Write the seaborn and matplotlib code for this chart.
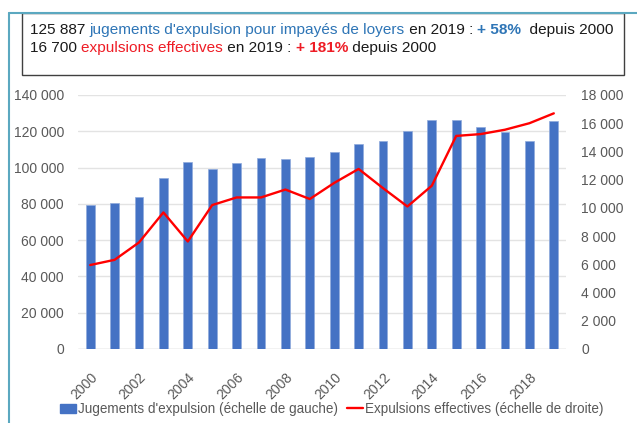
import numpy as np
import pandas as pd
import matplotlib
matplotlib.use("Agg")
import matplotlib.pyplot as plt
import seaborn as sns
from matplotlib.patches import Rectangle
from matplotlib.lines import Line2D
from matplotlib.text import Annotation

years = [str(y) for y in range(2000, 2020)]
jugements = [79400, 80500, 83600, 94500, 102900, 99400, 102500, 105500, 104700, 106000,
             108800, 113200, 114700, 120000, 126000, 126400, 122200, 119800, 114800, 125887]
effectives = [5950, 6320, 7550, 9680, 7620, 10200, 10740, 10740, 11300, 10630,
              11770, 12760, 11400, 10100, 11570, 15100, 15230, 15540, 16000, 16700]
left_ticks = [0, 20000, 40000, 60000, 80000, 100000, 120000, 140000]
right_ticks = [0, 2000, 4000, 6000, 8000, 10000, 12000, 14000, 16000, 18000]

sns.set_theme(style="white")
plt.rcParams['font.family'] = ['Liberation Sans', 'DejaVu Sans']

BAR = "#4472C4"
RED = "#FF0000"
TXT_BLUE = "#2E75B6"
TXT_RED = "#EE1C25"
GRAY = "#595959"
GRID = "#E3E3E3"

def fmt(v):
    return f"{int(v):,}".replace(",", " ")

df = pd.DataFrame({"annee": years, "jugements": jugements, "effectives": effectives})

fig = plt.figure(figsize=(6.37, 4.23), dpi=100)
ax = fig.add_axes([78/637, 1-349/423, (566-78)/637, (349-95)/423])

sns.barplot(data=df, x="annee", y="jugements", color=BAR, width=0.36, ax=ax,
            saturation=1, zorder=2, edgecolor="#8FAADC", linewidth=0.5)
ax.set_ylim(0, 140000)
ax.set_yticks(left_ticks)
ax.set_yticklabels([fmt(v) for v in left_ticks], color=GRAY, fontsize=10)
ax.set_xlim(-0.5, len(years)-0.5)
ax.grid(axis="y", color=GRID, linewidth=1, zorder=0)
ax.set_axisbelow(True)
for s in ax.spines.values():
    s.set_visible(False)
ax.axhline(0, color="#D9D9D9", linewidth=1, zorder=1)
ax.set_xlabel("")
ax.set_ylabel("")
ax.tick_params(axis="y", length=0, pad=10)
ax.set_xticks(range(0, len(years), 2))
ax.set_xticklabels(years[::2], rotation=45, ha="right", va="top",
                   rotation_mode="anchor", color=GRAY, fontsize=10)
ax.tick_params(axis="x", length=0, pad=15)

ax2 = ax.twinx()
sns.lineplot(x=np.arange(len(years)), y=effectives, color=RED, linewidth=1.7, ax=ax2)
ax2.set_ylim(0, 18000)
ax2.set_yticks(right_ticks)
ax2.set_yticklabels([fmt(v) for v in right_ticks], color=GRAY, fontsize=10)
ax2.tick_params(axis="y", length=0, pad=11)
for s in ax2.spines.values():
    s.set_visible(False)
ax2.grid(False)
ax2.set_xlim(-0.5, len(years)-0.5)

# legend
handles = [Rectangle((0, 0), 1, 1, color=BAR), Line2D([0], [0], color=RED, linewidth=1.7)]
labels = ["Jugements d'expulsion (échelle de gauche)", "Expulsions effectives (échelle de droite)"]
fig.legend(handles, labels, loc="center", bbox_to_anchor=(331.5/637, 1-409/423), ncol=2,
           frameon=False, fontsize=9.75, handlelength=1.2, handleheight=0.6,
           handletextpad=0.1, columnspacing=0.7, labelcolor=GRAY)

# outer frame lines (teal)
fig.add_artist(Line2D([9/637, 9/637], [0, 1-13/423], color="#5BA8C0", linewidth=1.5,
                      transform=fig.transFigure))
fig.add_artist(Line2D([9/637, 1], [1-13/423, 1-13/423], color="#5BA8C0", linewidth=1.5,
                      transform=fig.transFigure))
# title box
fig.add_artist(Rectangle((22/637, 1-75/423), (624-22)/637, (75-13)/423, fill=False,
                         edgecolor="#404040", linewidth=1, transform=fig.transFigure))

def chain(x, y, parts, size=11.1):
    prev = None
    for text, color, weight in parts:
        if prev is None:
            prev = fig.text(x, y, text, color=color, fontweight=weight, fontsize=size,
                            ha="left", va="bottom")
        else:
            prev = fig.add_artist(Annotation(text, xy=(1, 0), xycoords=prev,
                                             color=color, fontweight=weight, fontsize=size,
                                             ha="left", va="bottom"))
    return prev

chain(30/637, 1-37/423, [
    ("125 887 ", "#1A1A1A", "normal"),
    ("jugements d'expulsion pour impayés de loyers", TXT_BLUE, "normal"),
    (" en 2019 : ", "#1A1A1A", "normal"),
    ("+ 58%", TXT_BLUE, "bold"),
    ("  depuis 2000", "#1A1A1A", "normal"),
])
chain(30/637, 1-55/423, [
    ("16 700 ", "#1A1A1A", "normal"),
    ("expulsions effectives", TXT_RED, "normal"),
    (" en 2019 : ", "#1A1A1A", "normal"),
    ("+ 181%", TXT_RED, "bold"),
    (" depuis 2000", "#1A1A1A", "normal"),
])

fig.savefig("out.png", dpi=100)
